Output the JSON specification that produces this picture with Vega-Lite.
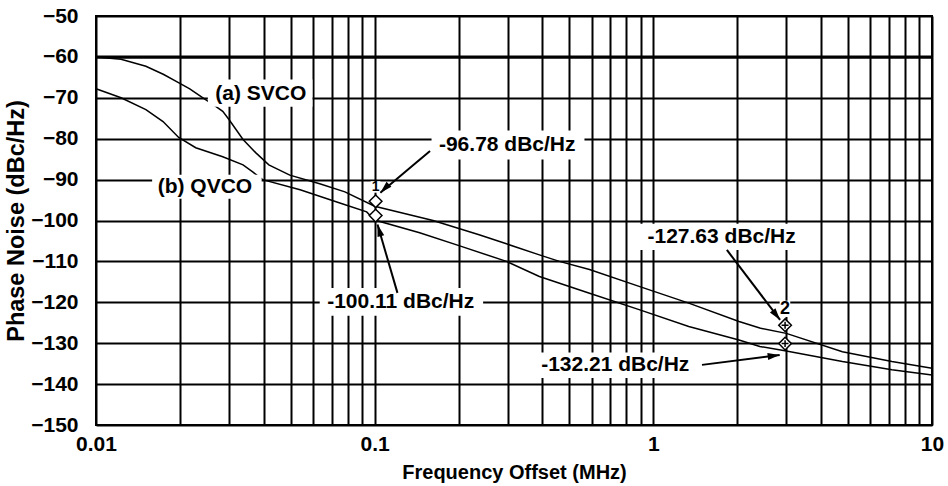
{
  "$schema": "https://vega.github.io/schema/vega-lite/v6.json",
  "width": 836,
  "height": 409,
  "autosize": "none",
  "padding": {"left": 96, "top": 16, "right": 16, "bottom": 61},
  "background": "white",
  "config": {
    "font": "Liberation Sans",
    "view": {"stroke": "black", "strokeWidth": 2},
    "axis": {
      "grid": true, "gridColor": "black", "gridWidth": 2, "gridOpacity": 1,
      "domain": false, "ticks": false,
      "labelColor": "black", "labelFont": "Liberation Sans", "labelFontSize": 21, "labelFontWeight": "bold",
      "titleColor": "black", "titleFont": "Liberation Sans", "titleFontSize": 20, "titleFontWeight": "bold"
    }
  },
  "datasets": {
    "curves": [
      {"series": "SVCO", "f": 0.01, "pn": -60.0},
      {"series": "SVCO", "f": 0.0123, "pn": -60.6},
      {"series": "SVCO", "f": 0.0151, "pn": -62.3},
      {"series": "SVCO", "f": 0.0175, "pn": -64.3},
      {"series": "SVCO", "f": 0.0194, "pn": -66.0},
      {"series": "SVCO", "f": 0.0217, "pn": -67.8},
      {"series": "SVCO", "f": 0.0242, "pn": -70.0},
      {"series": "SVCO", "f": 0.0265, "pn": -71.8},
      {"series": "SVCO", "f": 0.0285, "pn": -73.3},
      {"series": "SVCO", "f": 0.030, "pn": -75.3},
      {"series": "SVCO", "f": 0.0337, "pn": -80.2},
      {"series": "SVCO", "f": 0.0374, "pn": -83.4},
      {"series": "SVCO", "f": 0.0417, "pn": -86.4},
      {"series": "SVCO", "f": 0.0496, "pn": -88.9},
      {"series": "SVCO", "f": 0.0635, "pn": -91.0},
      {"series": "SVCO", "f": 0.0782, "pn": -93.0},
      {"series": "SVCO", "f": 0.1, "pn": -96.5},
      {"series": "SVCO", "f": 0.162, "pn": -100.0},
      {"series": "SVCO", "f": 0.237, "pn": -103.5},
      {"series": "SVCO", "f": 0.297, "pn": -105.7},
      {"series": "SVCO", "f": 0.39, "pn": -108.4},
      {"series": "SVCO", "f": 0.46, "pn": -110.0},
      {"series": "SVCO", "f": 0.59, "pn": -112.0},
      {"series": "SVCO", "f": 0.889, "pn": -116.1},
      {"series": "SVCO", "f": 1.34, "pn": -120.2},
      {"series": "SVCO", "f": 2.03, "pn": -124.7},
      {"series": "SVCO", "f": 2.41, "pn": -126.3},
      {"series": "SVCO", "f": 3.0, "pn": -127.6},
      {"series": "SVCO", "f": 4.77, "pn": -132.1},
      {"series": "SVCO", "f": 7.18, "pn": -134.5},
      {"series": "SVCO", "f": 10, "pn": -136.1},
      {"series": "QVCO", "f": 0.01, "pn": -67.8},
      {"series": "QVCO", "f": 0.0123, "pn": -70.0},
      {"series": "QVCO", "f": 0.0151, "pn": -72.9},
      {"series": "QVCO", "f": 0.0174, "pn": -75.8},
      {"series": "QVCO", "f": 0.0198, "pn": -79.7},
      {"series": "QVCO", "f": 0.0228, "pn": -82.2},
      {"series": "QVCO", "f": 0.0285, "pn": -84.4},
      {"series": "QVCO", "f": 0.0337, "pn": -86.4},
      {"series": "QVCO", "f": 0.0365, "pn": -88.1},
      {"series": "QVCO", "f": 0.0396, "pn": -90.0},
      {"series": "QVCO", "f": 0.054, "pn": -92.5},
      {"series": "QVCO", "f": 0.075, "pn": -95.7},
      {"series": "QVCO", "f": 0.0936, "pn": -97.9},
      {"series": "QVCO", "f": 0.1, "pn": -99.9},
      {"series": "QVCO", "f": 0.145, "pn": -103.0},
      {"series": "QVCO", "f": 0.202, "pn": -106.2},
      {"series": "QVCO", "f": 0.297, "pn": -110.0},
      {"series": "QVCO", "f": 0.39, "pn": -113.7},
      {"series": "QVCO", "f": 0.59, "pn": -117.8},
      {"series": "QVCO", "f": 0.889, "pn": -121.8},
      {"series": "QVCO", "f": 1.34, "pn": -125.9},
      {"series": "QVCO", "f": 2.03, "pn": -129.2},
      {"series": "QVCO", "f": 2.41, "pn": -130.8},
      {"series": "QVCO", "f": 3.0, "pn": -131.9},
      {"series": "QVCO", "f": 4.77, "pn": -134.5},
      {"series": "QVCO", "f": 7.18, "pn": -136.5},
      {"series": "QVCO", "f": 10, "pn": -137.8}
    ],
    "refline": [{"f": 0.01, "f2": 10, "pn": -60}],
    "boxes": [
      {"f": 0.0252, "f2": 0.0598, "pn": -65.5, "pn2": -72.2},
      {"f": 0.0159, "f2": 0.0393, "pn": -88.8, "pn2": -94.7},
      {"f": 0.160, "f2": 0.566, "pn": -78.0, "pn2": -85.1},
      {"f": 0.0635, "f2": 0.245, "pn": -116.5, "pn2": -123.3},
      {"f": 0.89, "f2": 3.48, "pn": -100.8, "pn2": -107.2},
      {"f": 0.375, "f2": 1.438, "pn": -132.3, "pn2": -138.5},
      {"f": 0.0967, "f2": 0.1048, "pn": -90.4, "pn2": -93.2},
      {"f": 2.84, "f2": 3.1, "pn": -119.6, "pn2": -123.6}
    ],
    "notes": [
      {"kind": "value", "text": "-96.78 dBc/Hz", "f": 0.299, "pn": -81.5},
      {"kind": "value", "text": "-100.11 dBc/Hz", "f": 0.124, "pn": -119.9},
      {"kind": "value", "text": "-127.63 dBc/Hz", "f": 1.758, "pn": -104.1},
      {"kind": "value", "text": "-132.21 dBc/Hz", "f": 0.73, "pn": -135.3},
      {"kind": "curve", "text": "(a) SVCO", "f": 0.039, "pn": -69.0},
      {"kind": "curve", "text": "(b) QVCO", "f": 0.0246, "pn": -91.7},
      {"kind": "m1", "text": "1", "f": 0.1008, "pn": -91.9},
      {"kind": "m2", "text": "2", "f": 2.97, "pn": -121.6}
    ],
    "arrows": [
      {"id": 1, "f": 0.1048, "pn": -93.2, "f2": 0.158, "pn2": -83.0},
      {"id": 2, "f": 0.1024, "pn": -101.0, "f2": 0.1207, "pn2": -117.7},
      {"id": 3, "f": 2.85, "pn": -124.3, "f2": 1.836, "pn2": -107.2},
      {"id": 4, "f": 2.84, "pn": -132.9, "f2": 1.495, "pn2": -135.3}
    ],
    "markers": [
      {"id": 1, "f": 0.1008, "pn": -95.3},
      {"id": 1, "f": 0.1008, "pn": -98.8},
      {"id": 2, "f": 2.97, "pn": -125.6},
      {"id": 2, "f": 2.97, "pn": -130.1}
    ]
  },
  "encoding": {
    "x": {
      "field": "f", "type": "quantitative",
      "scale": {"type": "log", "domain": [0.01, 10], "nice": false},
      "axis": {
        "values": [0.01, 0.02, 0.03, 0.04, 0.05, 0.06, 0.07, 0.08, 0.09, 0.1, 0.2, 0.3, 0.4, 0.5, 0.6, 0.7, 0.8, 0.9, 1, 2, 3, 4, 5, 6, 7, 8, 9, 10],
        "labelExpr": "datum.value == 0.01 ? '0.01' : datum.value == 0.1 ? '0.1' : datum.value == 1 ? '1' : datum.value == 10 ? '10' : ''",
        "labelOverlap": false, "labelFlush": false, "labelPadding": 8,
        "title": "Frequency Offset (MHz)", "titlePadding": 8
      }
    },
    "y": {
      "field": "pn", "type": "quantitative",
      "scale": {"domain": [-150, -50], "nice": false, "zero": false},
      "axis": {
        "values": [-150, -140, -130, -120, -110, -100, -90, -80, -70, -60, -50],
        "labelPadding": 18,
        "title": "Phase Noise (dBc/Hz)", "titlePadding": 2, "titleFontSize": 23.5
      }
    }
  },
  "layer": [
    {
      "data": {"name": "refline"},
      "mark": {"type": "rule", "color": "black", "strokeWidth": 3},
      "encoding": {"x2": {"field": "f2"}}
    },
    {
      "data": {"name": "curves"},
      "mark": {"type": "line", "color": "black", "strokeWidth": 1.5},
      "encoding": {"detail": {"field": "series"}}
    },
    {
      "data": {"name": "boxes"},
      "mark": {"type": "rect", "fill": "white", "stroke": null},
      "encoding": {"x2": {"field": "f2"}, "y2": {"field": "pn2"}}
    },
    {
      "data": {"name": "notes"},
      "transform": [{"filter": "datum.kind == 'value' || datum.kind == 'curve'"}],
      "mark": {"type": "text", "fontSize": 21, "fontWeight": "bold", "color": "black", "font": "Liberation Sans"},
      "encoding": {"text": {"field": "text"}}
    },
    {
      "data": {"name": "arrows"},
      "mark": {"type": "rule", "color": "black", "strokeWidth": 2},
      "encoding": {"x2": {"field": "f2"}, "y2": {"field": "pn2"}}
    },
    {
      "data": {"name": "arrows"},
      "transform": [{"filter": "datum.id == 1"}],
      "mark": {"type": "point", "shape": "M0,0L-0.7,2.4L0.7,2.4Z", "size": 100, "filled": true, "color": "black", "opacity": 1, "angle": 226},
      "encoding": {}
    },
    {
      "data": {"name": "arrows"},
      "transform": [{"filter": "datum.id == 2"}],
      "mark": {"type": "point", "shape": "M0,0L-0.7,2.4L0.7,2.4Z", "size": 100, "filled": true, "color": "black", "opacity": 1, "angle": 344},
      "encoding": {}
    },
    {
      "data": {"name": "arrows"},
      "transform": [{"filter": "datum.id == 3"}],
      "mark": {"type": "point", "shape": "M0,0L-0.7,2.4L0.7,2.4Z", "size": 100, "filled": true, "color": "black", "opacity": 1, "angle": 142},
      "encoding": {}
    },
    {
      "data": {"name": "arrows"},
      "transform": [{"filter": "datum.id == 4"}],
      "mark": {"type": "point", "shape": "M0,0L-0.7,2.4L0.7,2.4Z", "size": 100, "filled": true, "color": "black", "opacity": 1, "angle": 83},
      "encoding": {}
    },
    {
      "data": {"name": "markers"},
      "mark": {"type": "point", "shape": "diamond", "size": 160, "filled": true, "fill": "white", "stroke": "black", "strokeWidth": 1.5, "opacity": 1},
      "encoding": {}
    },
    {
      "data": {"name": "markers"},
      "transform": [{"filter": "datum.id == 2"}],
      "mark": {"type": "point", "shape": "M-0.55,0L0.55,0M0,-0.55L0,0.55", "size": 160, "filled": false, "stroke": "black", "strokeWidth": 1.5, "opacity": 1},
      "encoding": {}
    },
    {
      "data": {"name": "notes"},
      "transform": [{"filter": "datum.kind == 'm1'"}],
      "mark": {"type": "text", "fontSize": 14, "fontWeight": "bold", "color": "black", "font": "Liberation Sans"},
      "encoding": {"text": {"field": "text"}}
    },
    {
      "data": {"name": "notes"},
      "transform": [{"filter": "datum.kind == 'm2'"}],
      "mark": {"type": "text", "fontSize": 18, "fontWeight": "bold", "color": "black", "font": "Liberation Sans"},
      "encoding": {"text": {"field": "text"}}
    }
  ]
}
